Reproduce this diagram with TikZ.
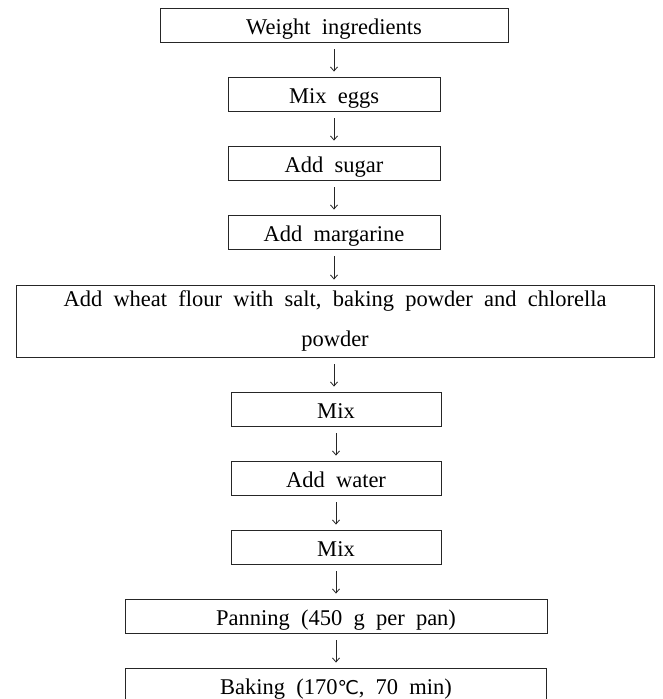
\documentclass[tikz,border=0pt]{standalone}
\usepackage{fontspec}
\setmainfont{Liberation Serif}[WordSpace=2]
\newfontfamily\degfont{DejaVu Sans}
\usetikzlibrary{arrows.meta}
\tikzset{
  stepbox/.style={draw=black!85, line width=0.9pt, rectangle, inner sep=0pt,
    minimum height=34pt, align=center, font=\fontsize{22.5}{27}\selectfont},
  onebox/.style={stepbox, text height=19.5pt, text depth=1pt},
  flow/.style={draw=black!85, line width=0.8pt, -{Straight Barb[length=4pt,width=7pt]},
    shorten <=7pt, shorten >=5pt}
}
\begin{document}
\begin{tikzpicture}[x=1pt,y=-1pt]
\useasboundingbox (0,0) rectangle (662,699);
\clip (0,0) rectangle (662,699);
\fill[white] (0,0) rectangle (662,699);
\node[onebox, minimum width=348pt] (w) at (334,25) {Weight ingredients};
\node[onebox, minimum width=212pt] (me) at (334,94) {Mix eggs};
\node[onebox, minimum width=212pt] (as) at (334,163) {Add sugar};
\node[onebox, minimum width=212pt] (am) at (334,232) {Add margarine};
\node[stepbox, minimum width=638pt, minimum height=72pt] (fl) at (335,321)
  {Add wheat flour with salt, baking powder and chlorella\\[13pt]powder};
\node[onebox, minimum width=210pt] (m1) at (336,409) {Mix};
\node[onebox, minimum width=210pt] (aw) at (336,478) {Add water};
\node[onebox, minimum width=210pt] (m2) at (336,547) {Mix};
\node[onebox, minimum width=422pt] (pa) at (336,616) {Panning (450 g per pan)};
\node[onebox, minimum width=421pt] (ba) at (336,685) {Baking (170{\degfont\fontsize{19}{20}\selectfont ℃}, 70 min)};
\draw[flow] (w.south) -- (w.south |- me.north);
\draw[flow] (me.south) -- (me.south |- as.north);
\draw[flow] (as.south) -- (as.south |- am.north);
\draw[flow] (am.south) -- (am.south |- fl.north);
\draw[flow] (am.south |- fl.south) -- (am.south |- m1.north);
\draw[flow] (m1.south) -- (m1.south |- aw.north);
\draw[flow] (aw.south) -- (aw.south |- m2.north);
\draw[flow] (m2.south) -- (m2.south |- pa.north);
\draw[flow] (pa.south) -- (pa.south |- ba.north);
\end{tikzpicture}
\end{document}
